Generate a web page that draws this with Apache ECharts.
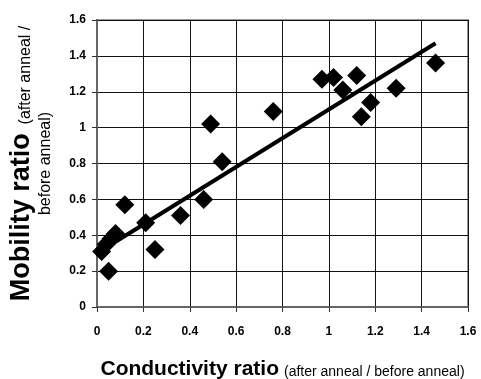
<!DOCTYPE html>
<html>
<head>
<meta charset="utf-8">
<script src="https://cdn.jsdelivr.net/npm/echarts@6/dist/echarts.min.js"></script>
<style>
html, body { margin: 0; padding: 0; background: #fff; }
#chart { width: 481px; height: 379px; }
</style>
</head>
<body>
<div id="chart"></div>
<script>
// measured points: conductivity ratio vs mobility ratio
var conductivityRatio = [0.02, 0.04, 0.06, 0.08, 0.05, 0.12, 0.21, 0.25, 0.36, 0.46, 0.49, 0.54,
	0.76, 0.97, 1.02, 1.06, 1.12, 1.14, 1.18, 1.29, 1.46];
var mobilityRatio = [0.31, 0.35, 0.38, 0.41, 0.20, 0.57, 0.47, 0.32, 0.51, 0.60, 1.02, 0.81,
	1.09, 1.27, 1.28, 1.21, 1.29, 1.06, 1.14, 1.22, 1.36];
// linear fit end points
var fitX = [0, 1.46];
var fitY = [0.30, 1.47];

var axisTicks = [0, 0.2, 0.4, 0.6, 0.8, 1, 1.2, 1.4, 1.6];

var points = [];
for (var i = 0; i < conductivityRatio.length; ++i) {
	points.push([conductivityRatio[i], mobilityRatio[i]]);
}
var fitLine = [];
for (var j = 0; j < fitX.length; ++j) {
	fitLine.push([fitX[j], fitY[j]]);
}

var font = 'Liberation Sans, Arial, sans-serif';

var option = {
	animation: false,
	backgroundColor: '#fff',
	grid: {
		left: 97,
		right: 13,
		top: 20,
		bottom: 72,
		outerBoundsMode: 'none',
		containLabel: false,
		show: true,
		borderColor: '#999',
		borderWidth: 2
	},
	xAxis: {
		type: 'value',
		min: axisTicks[0],
		max: axisTicks[axisTicks.length - 1],
		interval: 0.2,
		name: '{b|Conductivity ratio}{s|(after anneal / before anneal)}',
		nameLocation: 'middle',
		nameGap: 49,
		nameTextStyle: {
			rich: {
				b: { fontFamily: font, fontWeight: 'bold', fontSize: 21, color: '#000', lineHeight: 24, verticalAlign: 'bottom' },
				s: { fontFamily: font, fontSize: 14, color: '#000', lineHeight: 20, verticalAlign: 'bottom', padding: [0, 0, 1, 5] }
			}
		},
		axisLine: { lineStyle: { color: '#666', width: 2 } },
		axisTick: { show: true, length: 5, lineStyle: { color: '#333' } },
		axisLabel: {
			margin: 19,
			fontFamily: font,
			fontWeight: 'bold',
			fontSize: 12,
			color: '#000',
			formatter: function (v) { return String(Math.round(v * 10) / 10); }
		},
		splitLine: { show: true, lineStyle: { color: '#111', width: 1 } }
	},
	yAxis: {
		type: 'value',
		min: axisTicks[0],
		max: axisTicks[axisTicks.length - 1],
		interval: 0.2,
		name: '{b|Mobility ratio}{s|  (after anneal /}\n{s2|before anneal)}',
		nameLocation: 'middle',
		nameGap: 40,
		nameTextStyle: {
			rich: {
				b: { fontFamily: font, fontWeight: 'bold', fontSize: 27, color: '#000', lineHeight: 29, verticalAlign: 'bottom' },
				s: { fontFamily: font, fontSize: 16, color: '#000', lineHeight: 22, verticalAlign: 'bottom', padding: [0, 0, 1, 0] },
				s2: { fontFamily: font, fontSize: 16, color: '#000', lineHeight: 22 }
			}
		},
		axisLine: { lineStyle: { color: '#666', width: 2 } },
		axisTick: { show: true, length: 5, lineStyle: { color: '#333' } },
		axisLabel: {
			margin: 11,
			fontFamily: font,
			fontWeight: 'bold',
			fontSize: 12,
			color: '#000',
			formatter: function (v) { return String(Math.round(v * 10) / 10); }
		},
		splitLine: { show: true, lineStyle: { color: '#111', width: 1 } }
	},
	series: [
		{
			type: 'line',
			data: fitLine,
			symbol: 'none',
			lineStyle: { color: '#000', width: 4 },
			z: 3
		},
		{
			type: 'scatter',
			data: points,
			symbol: 'diamond',
			symbolSize: [19, 19],
			itemStyle: { color: '#000', opacity: 1 },
			z: 4
		}
	]
};

var myChart = echarts.init(document.getElementById('chart'));
myChart.setOption(option);
</script>
</body>
</html>
